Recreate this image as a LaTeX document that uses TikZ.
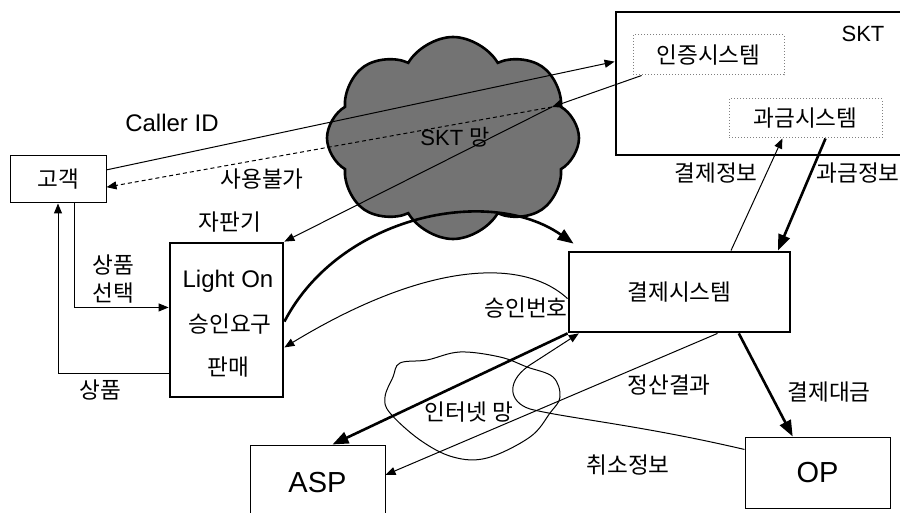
\documentclass[tikz,border=0pt]{standalone}
\usepackage{fontspec}
\setmainfont{Liberation Sans}
\newfontfamily\kr{Noto Sans CJK KR}
\usetikzlibrary{arrows.meta,calc,shapes.symbols}

\tikzstyle{thinbox} = [rectangle, draw=black, line width=0.5pt, fill=white, inner sep=0pt]
\tikzstyle{thickbox} = [rectangle, draw=black, line width=1.4pt, inner sep=0pt]
\tikzstyle{subsys} = [rectangle, draw=black!50, densely dotted, line width=0.5pt, inner sep=0pt]
\tikzstyle{flow} = [line width=0.5pt, -{Triangle[length=5pt,width=4pt]}]
\tikzstyle{bigflow} = [line width=1.3pt, -{Triangle[length=8pt,width=6pt]}]
\tikzstyle{kor} = [font=\kr\fontsize{11.3}{14}\selectfont]
\tikzstyle{lat} = [font=\fontsize{12}{14}\selectfont]

\begin{document}
\begin{tikzpicture}[x=0.5pt,y=-0.5pt]
        \useasboundingbox (0,0) rectangle (900,513);

        % Networks first so the lines go over them
        \node[cloud, cloud puffs=8, cloud puff arc=120, aspect=1.25, draw=black, line width=1.3pt,
            fill=black!55, minimum width=126pt, minimum height=101pt] at (453,138) (sktnet) {};
        \node[font=\fontsize{11}{13}\selectfont] at (455,137) (sktnetlabel) {SKT {\kr 망}};

        \draw[line width=0.5pt] plot[smooth cycle, tension=0.6] coordinates {(400,363) (427,360)
            (460,352) (500,357) (527,367) (553,377) (560,397) (550,413) (530,437) (487,458)
            (453,457) (420,440) (390,413) (385,397) (393,377)};
        \node[kor] at (469,412) (inetlabel) {인터넷 망};

        % Boxes
        \node[thinbox, minimum width=48pt, minimum height=23.5pt, kor] at (58,179.5) (cust) {고객};

        \node[thickbox, minimum width=56.5pt, minimum height=77pt] at (226.5,320) (vend) {};
        \node[kor] at (230,222) (vendlabel) {자판기};
        \node[lat] at (228,281) (lighton) {Light On};
        \node[kor] at (230,324) (request) {승인요구};
        \node[kor] at (228,367) (sell) {판매};

        \node[thickbox, minimum width=110.5pt, minimum height=40pt, kor] at (679.5,292) (pay) {결제시스템};

        \node[thickbox, minimum width=147pt, minimum height=71.5pt] at (763,83.5) (skt) {};
        \node[font=\fontsize{11}{13}\selectfont] at (863,34) (sktlabel) {SKT};
        \node[subsys, minimum width=75.5pt, minimum height=20pt, kor] at (708.5,55) (auth) {인증시스템};
        \node[subsys, minimum width=76.5pt, minimum height=19.5pt, kor] at (805.5,118.5) (bill) {과금시스템};

        \node[thinbox, minimum width=67.5pt, minimum height=37.5pt, font=\fontsize{14.5}{16}\selectfont]
            at (317.5,482.5) (asp) {ASP};
        \node[thinbox, minimum width=72.5pt, minimum height=35.5pt, font=\fontsize{14.5}{16}\selectfont]
            at (817.5,472.5) (op) {OP};

        % Caller ID and authentication
        \coordinate (relay) at (552,107);
        \draw[flow] ($(cust.north east)!0.3!(cust.south east)$) -- ($(skt.north west)!0.35!(skt.south west)$);
        \node[lat] at (172,123) (callerid) {Caller ID};
        \draw[flow] ($(auth.south west)!0.06!(auth.south east)$) -- (relay);
        \draw[flow] (relay) -- (vend.north east);
        \draw[flow, dash pattern=on 2pt off 1.5pt] (relay) -- ($(cust.north east)!0.66!(cust.south east)$);
        \node[kor] at (262,179) (unavail) {사용불가};

        % Approval
        \draw[bigflow] ($(vend.north east)!0.51!(vend.south east)$) .. controls (340,215) and (490,185)
            .. ($(pay.north west)+(6,-7)$);
        \draw[flow] ($(pay.north west)!0.58!(pay.south west)$) .. controls (520,255) and (420,265)
            .. ($(vend.north east)!0.675!(vend.south east)$);
        \node[kor] at (526,308) (approvalno) {승인번호};

        % Billing
        \draw[flow] ($(pay.north west)!0.73!(pay.north east)$) -- ($(bill.south west)!0.35!(bill.south east)$);
        \node[kor] at (716,173) (payinfo) {결제정보};
        \draw[bigflow] ($(bill.south west)!0.63!(bill.south east)$) -- ($(pay.north west)!0.94!(pay.north east)$);
        \node[kor] at (858,173) (billinfo) {과금정보};

        % ASP and OP
        \draw[bigflow] (pay.south west) -- ($(asp.north west)!0.61!(asp.north east)$);
        \draw[flow] ($(pay.south west)!0.67!(pay.south east)$) -- ($(asp.north east)!0.4!(asp.south east)$);
        \node[kor] at (669,385) (settle) {정산결과};
        \draw[flow] ($(op.north west)!0.18!(op.south west)$) .. controls (640,425) and (565,418) .. (530,409)
            .. controls (508,402) and (505,380) .. (533,363) -- ($(pay.south west)!0.05!(pay.south east)$);
        \node[kor] at (628,465) (cancel) {취소정보};
        \draw[bigflow] ($(pay.south west)!0.765!(pay.south east)$) -- ($(op.north west)!0.33!(op.north east)$);
        \node[kor] at (829,392) (payment) {결제대금};

        % Customer and vending machine
        \draw[flow] ($(cust.south west)!0.667!(cust.south east)$) |- ($(vend.north west)!0.42!(vend.south west)$);
        \node[kor, align=center] at (113,279) (choice) {상품\\선택};
        \draw[flow] ($(vend.north west)!0.84!(vend.south west)$) -| (cust.south);
        \node[kor] at (100,390) (goods) {상품};
    \end{tikzpicture}
\end{document}
